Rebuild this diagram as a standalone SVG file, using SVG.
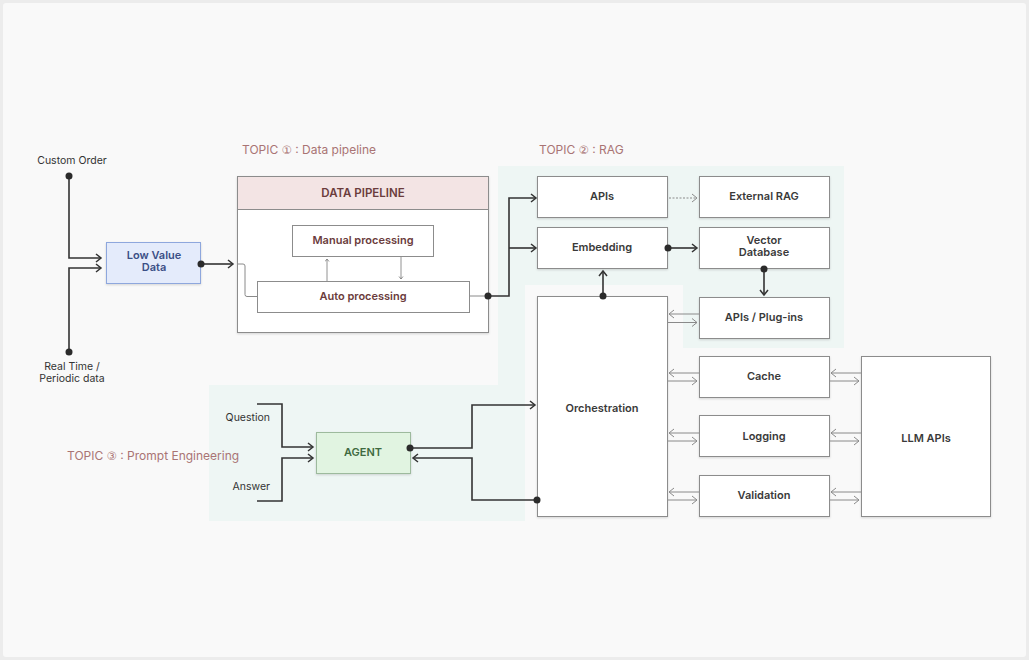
<svg xmlns="http://www.w3.org/2000/svg" width="1029" height="660" viewBox="0 0 1029 660">
<defs>
<style>
.lbl{font-family:Inter,"Liberation Sans",sans-serif;font-size:10.5px;fill:#333}
.nt{font-family:Inter,"Liberation Sans",sans-serif;font-size:11px;font-weight:600;fill:#3a3a3a;text-anchor:middle}
.topic{font-family:Inter,"Liberation Sans",sans-serif;font-size:12px;fill:#a97474}
.cd{font-family:"DejaVu Sans",sans-serif;font-size:11.5px}
.box{fill:#fff;stroke:#8c8c8c;stroke-width:1}
.dk{fill:none;stroke:#333;stroke-width:1.6}
.gr{fill:none;stroke:#8a8a8a;stroke-width:1}
.dot{fill:#2b2b2b}
</style>
<marker id="ad" markerUnits="userSpaceOnUse" markerWidth="10" markerHeight="12" refX="6" refY="5" orient="auto">
<path d="M1,1 L6,5 L1,9" fill="none" stroke="#333" stroke-width="1.5"/>
</marker>
<marker id="ag" markerUnits="userSpaceOnUse" markerWidth="10" markerHeight="12" refX="6" refY="5" orient="auto">
<path d="M1,1 L6,5 L1,9" fill="none" stroke="#8a8a8a" stroke-width="1"/>
</marker>
<marker id="as" markerUnits="userSpaceOnUse" markerWidth="6" markerHeight="6" refX="3" refY="2.5" orient="auto">
<path d="M0.5,0.5 L3,2.5 L0.5,4.5" fill="none" stroke="#777" stroke-width="0.8"/>
</marker>
<filter id="sh" x="-10%" y="-10%" width="120%" height="130%">
<feDropShadow dx="0" dy="1" stdDeviation="1" flood-color="#000" flood-opacity="0.15"/>
</filter>
</defs>

<rect x="0" y="0" width="1029" height="660" fill="#ececec"/>
<rect x="3" y="3" width="1023" height="654" rx="3" fill="#f9f9f9"/>

<g id="regions">
<path d="M498,166 H844 V348 H683 V285 H525 V521 H209 V385 H498 Z" fill="#eef6f4"/>
</g>

<g id="topics">
<text class="topic" x="242" y="154">TOPIC <tspan class="cd">①</tspan> : Data pipeline</text>
<text class="topic" x="539" y="154">TOPIC <tspan class="cd">②</tspan> : RAG</text>
<text class="topic" x="67" y="460">TOPIC <tspan class="cd">③</tspan> : Prompt Engineering</text>
</g>

<g id="inputs">
<text class="lbl" x="72" y="164" text-anchor="middle">Custom Order</text>
<text class="lbl" x="72" y="370" text-anchor="middle">Real Time /</text>
<text class="lbl" x="72" y="382" text-anchor="middle">Periodic data</text>
<text class="lbl" x="270" y="421" text-anchor="end">Question</text>
<text class="lbl" x="270" y="490" text-anchor="end">Answer</text>
</g>

<g id="low-value-data">
<rect x="106.5" y="242.5" width="94" height="41" fill="#e4ebfb" stroke="#8ea7dd" filter="url(#sh)"/>
<text class="nt" x="154" y="259" style="fill:#3b4f86">Low Value</text>
<text class="nt" x="154" y="271" style="fill:#3b4f86">Data</text>
</g>

<g id="data-pipeline">
<rect x="237.5" y="176.5" width="251" height="156" class="box" filter="url(#sh)"/>
<rect x="237.5" y="176.5" width="251" height="33" fill="#f3e4e4" stroke="#8c8c8c"/>
<text class="nt" x="363" y="197" style="fill:#6b3c3c;font-size:11.5px">DATA PIPELINE</text>
</g>
<g id="manual-processing">
<rect x="292.5" y="225.5" width="141" height="31" class="box"/>
<text class="nt" x="363" y="244" style="fill:#6b3c3c">Manual processing</text>
</g>
<g id="auto-processing">
<rect x="257.5" y="281.5" width="212" height="31" class="box"/>
<text class="nt" x="363" y="300" style="fill:#6b3c3c">Auto processing</text>
</g>

<g id="apis"><rect x="537.5" y="176.5" width="130" height="41" class="box" filter="url(#sh)"/><text class="nt" x="602" y="200">APIs</text></g>
<g id="external-rag"><rect x="699.5" y="176.5" width="130" height="41" class="box" filter="url(#sh)"/><text class="nt" x="764" y="200">External RAG</text></g>
<g id="embedding"><rect x="537.5" y="227.5" width="130" height="41" class="box" filter="url(#sh)"/><text class="nt" x="602" y="251">Embedding</text></g>
<g id="vector-database"><rect x="699.5" y="227.5" width="130" height="41" class="box" filter="url(#sh)"/><text class="nt" x="764" y="244">Vector</text><text class="nt" x="764" y="256">Database</text></g>
<g id="apis-plugins"><rect x="699.5" y="297.5" width="130" height="41" class="box" filter="url(#sh)"/><text class="nt" x="764" y="321">APIs / Plug-ins</text></g>
<g id="orchestration"><rect x="537.5" y="296.5" width="130" height="220" class="box" filter="url(#sh)"/><text class="nt" x="602" y="412">Orchestration</text></g>
<g id="cache"><rect x="699.5" y="356.5" width="130" height="41" class="box" filter="url(#sh)"/><text class="nt" x="764" y="380">Cache</text></g>
<g id="logging"><rect x="699.5" y="415.5" width="130" height="41" class="box" filter="url(#sh)"/><text class="nt" x="764" y="440">Logging</text></g>
<g id="validation"><rect x="699.5" y="475.5" width="130" height="41" class="box" filter="url(#sh)"/><text class="nt" x="764" y="499">Validation</text></g>
<g id="llm-apis"><rect x="861.5" y="356.5" width="129" height="160" class="box" filter="url(#sh)"/><text class="nt" x="926" y="442">LLM APIs</text></g>
<g id="agent"><rect x="316.5" y="432.5" width="94" height="41" fill="#e1f4e1" stroke="#9dba9d" filter="url(#sh)"/><text class="nt" x="363" y="456" style="fill:#3f6a40">AGENT</text></g>

<g id="connectors">
<path class="dk" d="M69,176 V258 H101" marker-end="url(#ad)"/>
<path class="dk" d="M69,352 V268 H101" marker-end="url(#ad)"/>
<circle class="dot" cx="69" cy="176" r="3.5"/>
<circle class="dot" cx="69" cy="352" r="3.5"/>
<path class="dk" d="M201,264 H233" marker-end="url(#ad)"/>
<circle class="dot" cx="201" cy="264" r="3.5"/>
<path class="gr" d="M238,264 H243 Q245,264 245,266 V294.5 Q245,296.5 247,296.5 H257"/>
<path d="M327,281 V259" fill="none" stroke="#777" stroke-width="0.8" marker-end="url(#as)"/>
<path d="M401,257 V279" fill="none" stroke="#777" stroke-width="0.8" marker-end="url(#as)"/>
<path class="gr" d="M470,296 H488"/>
<path class="dk" d="M488,296 H509 V198 H536" marker-end="url(#ad)"/>
<path class="dk" d="M509,248 H536" marker-end="url(#ad)"/>
<circle class="dot" cx="488" cy="296" r="3.5"/>
<path class="gr" d="M669,198 H697" stroke-dasharray="2,1.5" marker-end="url(#ag)"/>
<path class="dk" d="M668,248 H697" marker-end="url(#ad)"/>
<circle class="dot" cx="668" cy="248" r="3.5"/>
<path class="dk" d="M764,269 V295" marker-end="url(#ad)"/>
<circle class="dot" cx="764" cy="269" r="3.5"/>
<path class="dk" d="M603,296 V271" marker-end="url(#ad)"/>
<circle class="dot" cx="603" cy="296" r="3.5"/>
<path class="gr" d="M699,314 H669" marker-end="url(#ag)"/>
<path class="gr" d="M668,322.5 H697" marker-end="url(#ag)"/>
<path class="gr" d="M699,373 H669" marker-end="url(#ag)"/>
<path class="gr" d="M668,381 H697" marker-end="url(#ag)"/>
<path class="gr" d="M699,433 H669" marker-end="url(#ag)"/>
<path class="gr" d="M668,441 H697" marker-end="url(#ag)"/>
<path class="gr" d="M699,492 H669" marker-end="url(#ag)"/>
<path class="gr" d="M668,500 H697" marker-end="url(#ag)"/>
<path class="gr" d="M861,373 H831" marker-end="url(#ag)"/>
<path class="gr" d="M830,381 H859" marker-end="url(#ag)"/>
<path class="gr" d="M861,433 H831" marker-end="url(#ag)"/>
<path class="gr" d="M830,441 H859" marker-end="url(#ag)"/>
<path class="gr" d="M861,492 H831" marker-end="url(#ag)"/>
<path class="gr" d="M830,500 H859" marker-end="url(#ag)"/>
<path class="dk" d="M257,404 H282 V447 H313" marker-end="url(#ad)"/>
<path class="dk" d="M257,501 H282 V458 H313" marker-end="url(#ad)"/>
<path class="dk" d="M410,448 H472 V405 H535" marker-end="url(#ad)"/>
<circle class="dot" cx="410" cy="448" r="3.5"/>
<path class="dk" d="M537,500 H472 V458 H413" marker-end="url(#ad)"/>
<circle class="dot" cx="537" cy="500" r="3.5"/>
</g>
</svg>
